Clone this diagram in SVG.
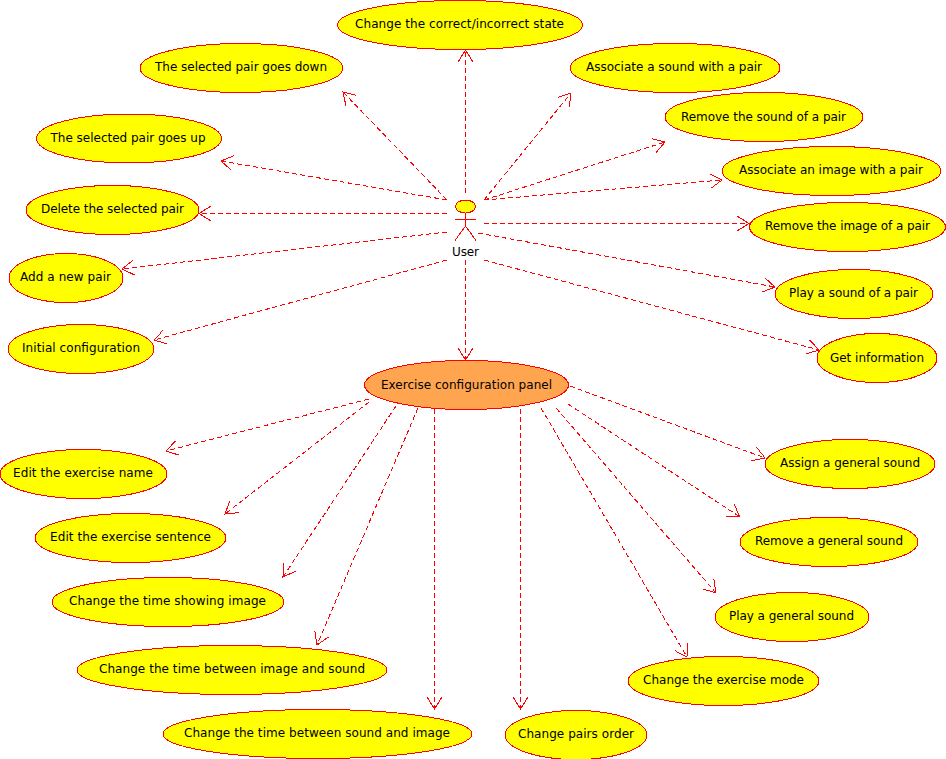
<svg xmlns="http://www.w3.org/2000/svg" width="946" height="759" viewBox="0 0 946 759">
<defs>
<style>
.n{fill:#ffff00;stroke:#ff0000;stroke-width:1;shape-rendering:crispEdges}
.o{fill:#ffa550;stroke:#ff0000;stroke-width:1;shape-rendering:crispEdges}
text{font-family:"DejaVu Sans",sans-serif;font-size:12px;fill:#000;text-anchor:middle}
.c line{stroke:#ff0000;stroke-width:1;stroke-dasharray:5 3;marker-end:url(#a);shape-rendering:crispEdges}
.u{stroke:#ff0000;stroke-width:1;fill:none;shape-rendering:crispEdges}
</style>
<marker id="a" markerUnits="userSpaceOnUse" markerWidth="16" markerHeight="18" refX="13" refY="9" orient="auto">
<path d="M1.3 1.7L13 9L1.3 16.3" fill="none" stroke="#ff0000" stroke-width="1" shape-rendering="crispEdges"/>
</marker>
</defs>
<rect width="946" height="759" fill="#fff"/>
<g id="connectors" class="c">
<line x1="465.5" y1="193" x2="465.5" y2="50"/>
<line x1="447" y1="200" x2="343" y2="92"/>
<line x1="447" y1="200" x2="221" y2="161"/>
<line x1="447" y1="213.5" x2="199" y2="213.5"/>
<line x1="447" y1="232" x2="122" y2="269"/>
<line x1="447" y1="260" x2="154" y2="340"/>
<line x1="484" y1="200" x2="571" y2="93"/>
<line x1="484" y1="200" x2="665" y2="142"/>
<line x1="484" y1="200" x2="722" y2="180"/>
<line x1="484" y1="223.5" x2="749" y2="223.5"/>
<line x1="478" y1="233" x2="775" y2="287"/>
<line x1="484" y1="260" x2="819" y2="350"/>
<line x1="465.5" y1="260" x2="465.5" y2="360"/>
<line x1="369" y1="399" x2="166" y2="451"/>
<line x1="369" y1="402" x2="225" y2="514"/>
<line x1="396" y1="406" x2="283" y2="577"/>
<line x1="418" y1="408" x2="317" y2="645"/>
<line x1="434.5" y1="409" x2="434.5" y2="709"/>
<line x1="520.5" y1="409" x2="520.5" y2="709"/>
<line x1="541" y1="408" x2="687" y2="657"/>
<line x1="556" y1="408" x2="716" y2="593"/>
<line x1="568" y1="404" x2="740" y2="517"/>
<line x1="570" y1="386" x2="765" y2="458"/>
</g>
<g id="user"><ellipse class="n" cx="465.5" cy="206.5" rx="10" ry="6.5"/><path class="u" d="M455 219.5H476M465.5 213V226L455 240.5M465.5 226L476 240.5"/><text x="465.5" y="256" textLength="27">User</text></g>
<g id="n1"><ellipse class="n" cx="460" cy="25" rx="122.5" ry="24.5"/><text x="459.5" y="28" textLength="209">Change the correct/incorrect state</text></g>
<g id="n2"><ellipse class="n" cx="241.5" cy="68" rx="101.5" ry="24.5"/><text x="241" y="71" textLength="172">The selected pair goes down</text></g>
<g id="n3"><ellipse class="n" cx="129" cy="138.5" rx="92.5" ry="24.5"/><text x="128" y="142" textLength="155">The selected pair goes up</text></g>
<g id="n4"><ellipse class="n" cx="112.5" cy="210" rx="86.5" ry="24.5"/><text x="112.5" y="213" textLength="143">Delete the selected pair</text></g>
<g id="n5"><ellipse class="n" cx="66" cy="278" rx="57" ry="24.5"/><text x="65.5" y="281" textLength="91">Add a new pair</text></g>
<g id="n6"><ellipse class="n" cx="81" cy="349" rx="73" ry="24.5"/><text x="81" y="352" textLength="118">Initial configuration</text></g>
<g id="n7"><ellipse class="n" cx="675" cy="68" rx="105" ry="24.5"/><text x="674" y="71" textLength="176">Associate a sound with a pair</text></g>
<g id="n8"><ellipse class="n" cx="764" cy="117" rx="99" ry="24.5"/><text x="763.5" y="121" textLength="165">Remove the sound of a pair</text></g>
<g id="n9"><ellipse class="n" cx="831.5" cy="171" rx="109.5" ry="24.5"/><text x="831" y="174" textLength="184">Associate an image with a pair</text></g>
<g id="n10"><ellipse class="n" cx="847.5" cy="227" rx="98" ry="24.5"/><text x="847.5" y="230" textLength="165">Remove the image of a pair</text></g>
<g id="n11"><ellipse class="n" cx="854" cy="294" rx="79" ry="24.5"/><text x="853.5" y="297" textLength="129">Play a sound of a pair</text></g>
<g id="n12"><ellipse class="n" cx="877" cy="358" rx="60" ry="24.5"/><text x="877" y="362" textLength="94">Get information</text></g>
<g id="panel"><ellipse class="o" cx="466.5" cy="385" rx="102" ry="24.5"/><text x="466.5" y="389" textLength="171">Exercise configuration panel</text></g>
<g id="n13"><ellipse class="n" cx="83.5" cy="474" rx="83.5" ry="24.5"/><text x="83" y="477" textLength="140">Edit the exercise name</text></g>
<g id="n14"><ellipse class="n" cx="130.5" cy="538" rx="95.5" ry="24.5"/><text x="130.5" y="541" textLength="161">Edit the exercise sentence</text></g>
<g id="n15"><ellipse class="n" cx="168" cy="602" rx="116" ry="24.5"/><text x="167.5" y="605" textLength="197">Change the time showing image</text></g>
<g id="n16"><ellipse class="n" cx="232" cy="670" rx="155" ry="24.5"/><text x="232" y="673" textLength="266">Change the time between image and sound</text></g>
<g id="n17"><ellipse class="n" cx="317.5" cy="734" rx="154.5" ry="24.5"/><text x="317" y="737" textLength="266">Change the time between sound and image</text></g>
<g id="n18"><ellipse class="n" cx="576" cy="735" rx="71" ry="24.5"/><text x="576" y="738" textLength="116">Change pairs order</text></g>
<g id="n19"><ellipse class="n" cx="723.5" cy="681" rx="95.5" ry="24.5"/><text x="723.5" y="684" textLength="161">Change the exercise mode</text></g>
<g id="n20"><ellipse class="n" cx="792" cy="617" rx="77" ry="24.5"/><text x="791.5" y="620" textLength="125">Play a general sound</text></g>
<g id="n21"><ellipse class="n" cx="829" cy="542" rx="89" ry="24.5"/><text x="829" y="545" textLength="148">Remove a general sound</text></g>
<g id="n22"><ellipse class="n" cx="850" cy="464" rx="85" ry="24.5"/><text x="850" y="467" textLength="140">Assign a general sound</text></g>
</svg>
